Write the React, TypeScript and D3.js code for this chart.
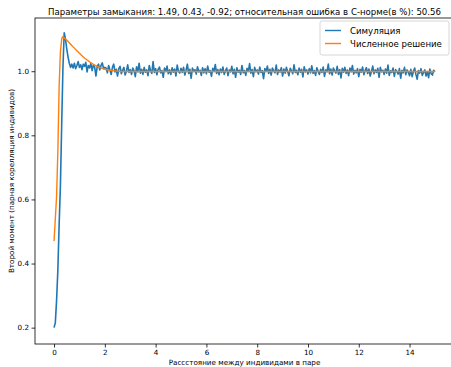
import { useEffect, useRef } from "react";
import * as d3 from "d3";

// simulation: values on a 0.05 grid, x from 0 to 15
const simStep = 0.05;
const simValues = [
  0.2, 0.215, 0.285, 0.38, 0.52, 0.64, 0.83, 1.01, 1.12, 1.1, 1.07, 1.045, 1.025, 1.012, 1.022,
  1.01, 1.025, 1.008, 1.018, 1.03, 1.012, 1.02, 1.005, 1.022, 1.015, 1.028, 0.998, 1.018, 1.01, 1.024, 1.002, 1.02, 1.012, 0.985, 1.015, 1.022, 1.004, 1.018, 1.026, 1.008, 1.012,
  1.01, 0.995, 1.018, 1.004, 0.99, 1.012, 1.022, 0.998, 1.006, 0.985,
  1.008, 1.015, 0.992, 1.003, 1.012, 0.988, 1.0, 1.02, 0.996, 1.005,
  0.99, 1.01, 1.002, 0.983, 1.014, 0.998, 1.025, 0.994, 1.006, 0.99,
  1.012, 0.997, 1.004, 0.986, 1.018, 1.001, 0.993, 1.03, 0.996, 1.008,
  0.989, 1.006, 1.013, 0.995, 1.002, 0.981, 1.01, 0.999, 1.016, 0.992,
  1.004, 0.99, 1.011, 0.997, 1.007, 0.985, 1.019, 1.0, 0.994, 1.009,
  0.996, 1.012, 0.988, 1.003, 1.022, 0.993, 1.006, 0.978, 1.01, 0.999,
  1.005, 0.991, 1.014, 0.998, 1.003, 0.987, 1.011, 0.995, 1.008, 0.992,
  1.016, 0.997, 1.002, 0.984, 1.009, 0.999, 1.021, 0.993, 1.005, 0.989,
  1.007, 0.996, 1.013, 0.99, 1.001, 1.01, 0.986, 1.004, 0.998, 1.015,
  0.992, 1.006, 0.981, 1.011, 0.997, 1.003, 0.99, 1.018, 0.995, 1.002,
  0.987, 1.009, 0.999, 1.024, 0.994, 1.005, 0.983, 1.012, 0.998, 1.004,
  0.991, 1.013, 0.996, 1.002, 0.977, 1.008, 0.999, 1.016, 0.993, 1.006,
  0.988, 1.01, 1.001, 0.995, 1.019, 0.99, 1.004, 0.997, 1.011, 0.985,
  1.007, 0.994, 1.012, 0.999, 0.986, 1.009, 1.002, 0.992, 1.02, 0.996,
  1.003, 0.989, 1.01, 0.997, 1.006, 0.982, 1.014, 0.998, 1.004, 0.991,
  1.008, 0.995, 1.017, 0.993, 1.002, 0.987, 1.011, 0.999, 0.99, 1.006,
  0.996, 1.013, 0.984, 1.004, 0.998, 1.022, 0.992, 1.007, 0.988, 1.01,
  1.001, 0.994, 1.015, 0.99, 1.005, 0.979, 1.009, 0.997, 1.012, 0.993,
  1.004, 0.986, 1.01, 0.998, 1.018, 0.991, 1.003, 0.995, 1.008, 0.983,
  1.006, 0.997, 1.013, 0.989, 1.002, 1.011, 0.993, 1.007, 0.985, 1.0,
  1.016, 0.992, 1.004, 0.996, 1.009, 0.981, 1.012, 0.998, 1.003, 0.99,
  1.007, 0.994, 1.019, 0.987, 1.001, 0.996, 1.01, 0.984, 1.005, 0.999,
  0.991, 1.008, 0.978, 1.003, 0.995, 1.012, 0.989, 1.004, 0.997, 0.986,
  1.006, 0.983, 0.998, 1.01, 0.99, 0.975, 1.002, 0.994, 1.008, 0.987,
  0.996, 1.004, 0.985, 0.999, 0.98, 1.007, 0.992, 0.988, 1.003, 0.998,
];

// numerical solution
const numX = [0, 0.05, 0.1, 0.15, 0.2, 0.25, 0.3, 0.33, 0.4, 0.5, 0.6, 0.7, 0.8, 0.9, 1.0, 1.1, 1.2, 1.3, 1.4, 1.5, 1.6, 1.7, 1.8, 1.9, 2.0, 2.2, 2.4, 2.6, 3.0, 15];
const numY = [0.47, 0.54, 0.61, 0.75, 0.95, 1.06, 1.1, 1.107, 1.104, 1.097, 1.089, 1.08, 1.072, 1.064, 1.056, 1.048, 1.041, 1.035, 1.029, 1.024, 1.019, 1.015, 1.012, 1.009, 1.006, 1.003, 1.001, 0.999, 0.999, 0.999];

const xTicks = [0, 2, 4, 6, 8, 10, 12, 14];
const yTicks = [0.2, 0.4, 0.6, 0.8, 1.0];
const seriesNames = ["Симуляция", "Численное решение"];
const colors = ["#1f77b4", "#ff7f0e"];

const titleText = "Параметры замыкания: 1.49, 0.43, -0.92; относительная ошибка в С-норме(в %): 50.56";
const xLabel = "Рассстояние между индивидами в паре";
const yLabel = "Второй момент (парная корелляция индивидов)";

const width = 451;
const height = 367;

export default function App() {
  const svgRef = useRef<SVGSVGElement>(null);

  useEffect(() => {
    const svg = d3.select(svgRef.current);
    svg.selectAll("*").remove();

    const margin = { top: 18, right: -3, bottom: 23, left: 35 };
    const innerWidth = width - margin.left - margin.right;
    const innerHeight = height - margin.top - margin.bottom;

    const simData = simValues.map((v, i) => ({ x: i * simStep, y: v }));
    const numData = numX.map((x, i) => ({ x, y: numY[i] }));

    const xScale = d3.scaleLinear().domain([-0.75, 15.75]).range([0, innerWidth]);
    const yScale = d3.scaleLinear().domain([0.149, 1.166]).range([innerHeight, 0]);

    const g = svg
      .append("g")
      .attr("transform", `translate(${margin.left},${margin.top})`);

    const line = d3
      .line<{ x: number; y: number }>()
      .x((d) => xScale(d.x))
      .y((d) => yScale(d.y));

    g.append("path")
      .datum(simData)
      .attr("fill", "none")
      .attr("stroke", colors[0])
      .attr("stroke-width", 1.6)
      .attr("stroke-linejoin", "round")
      .attr("d", line);

    g.append("path")
      .datum(numData)
      .attr("fill", "none")
      .attr("stroke", colors[1])
      .attr("stroke-width", 1.4)
      .attr("d", line);

    // Axes
    const xAxis = g
      .append("g")
      .attr("transform", `translate(0,${innerHeight})`)
      .call(d3.axisBottom(xScale).tickValues(xTicks).tickSize(3.5).tickPadding(2.5).tickFormat(d3.format("d")));
    const yAxis = g
      .append("g")
      .call(d3.axisLeft(yScale).tickValues(yTicks).tickSize(3.5).tickPadding(2.5).tickFormat(d3.format(".1f")));

    [xAxis, yAxis].forEach((ax) => {
      ax.select(".domain").remove();
      ax.selectAll("line").attr("stroke", "#000").attr("stroke-width", 0.8);
      ax.selectAll("text")
        .attr("fill", "#000")
        .style("font-family", "DejaVu Sans")
        .style("font-size", "7.2px");
    });

    // Spines
    const spine = g.append("g").attr("stroke", "#000").attr("stroke-width", 0.8).attr("fill", "none");
    spine.append("rect").attr("x", 0).attr("y", 0).attr("width", innerWidth).attr("height", innerHeight);

    // Labels
    svg
      .append("text")
      .attr("x", margin.left + innerWidth / 2)
      .attr("y", 15)
      .attr("text-anchor", "middle")
      .style("font-family", "DejaVu Sans")
      .style("font-size", "8.6px")
      .text(titleText);

    svg
      .append("text")
      .attr("x", margin.left + innerWidth / 2)
      .attr("y", 365)
      .attr("text-anchor", "middle")
      .style("font-family", "DejaVu Sans")
      .style("font-size", "7.2px")
      .text(xLabel);

    svg
      .append("text")
      .attr("transform", `translate(14,${margin.top + innerHeight / 2}) rotate(-90)`)
      .attr("text-anchor", "middle")
      .style("font-family", "DejaVu Sans")
      .style("font-size", "7.2px")
      .text(yLabel);

    // Legend
    const legend = svg.append("g").attr("transform", "translate(320,21)");
    legend
      .append("rect")
      .attr("width", 129)
      .attr("height", 34)
      .attr("rx", 2)
      .attr("fill", "#fff")
      .attr("fill-opacity", 0.8)
      .attr("stroke", "#ccc")
      .attr("stroke-width", 0.8);
    seriesNames.forEach((name, i) => {
      const row = legend.append("g").attr("transform", `translate(0,${9.5 + i * 13})`);
      row.append("line").attr("x1", 5).attr("x2", 21).attr("stroke", colors[i]).attr("stroke-width", 1.4);
      row
        .append("text")
        .attr("x", 30)
        .attr("y", 3)
        .style("font-family", "DejaVu Sans")
        .style("font-size", "8.6px")
        .text(name);
    });
  }, []);

  return <svg ref={svgRef} width={width} height={height} style={{ position: "absolute", left: 0, top: 0 }} />;
}
